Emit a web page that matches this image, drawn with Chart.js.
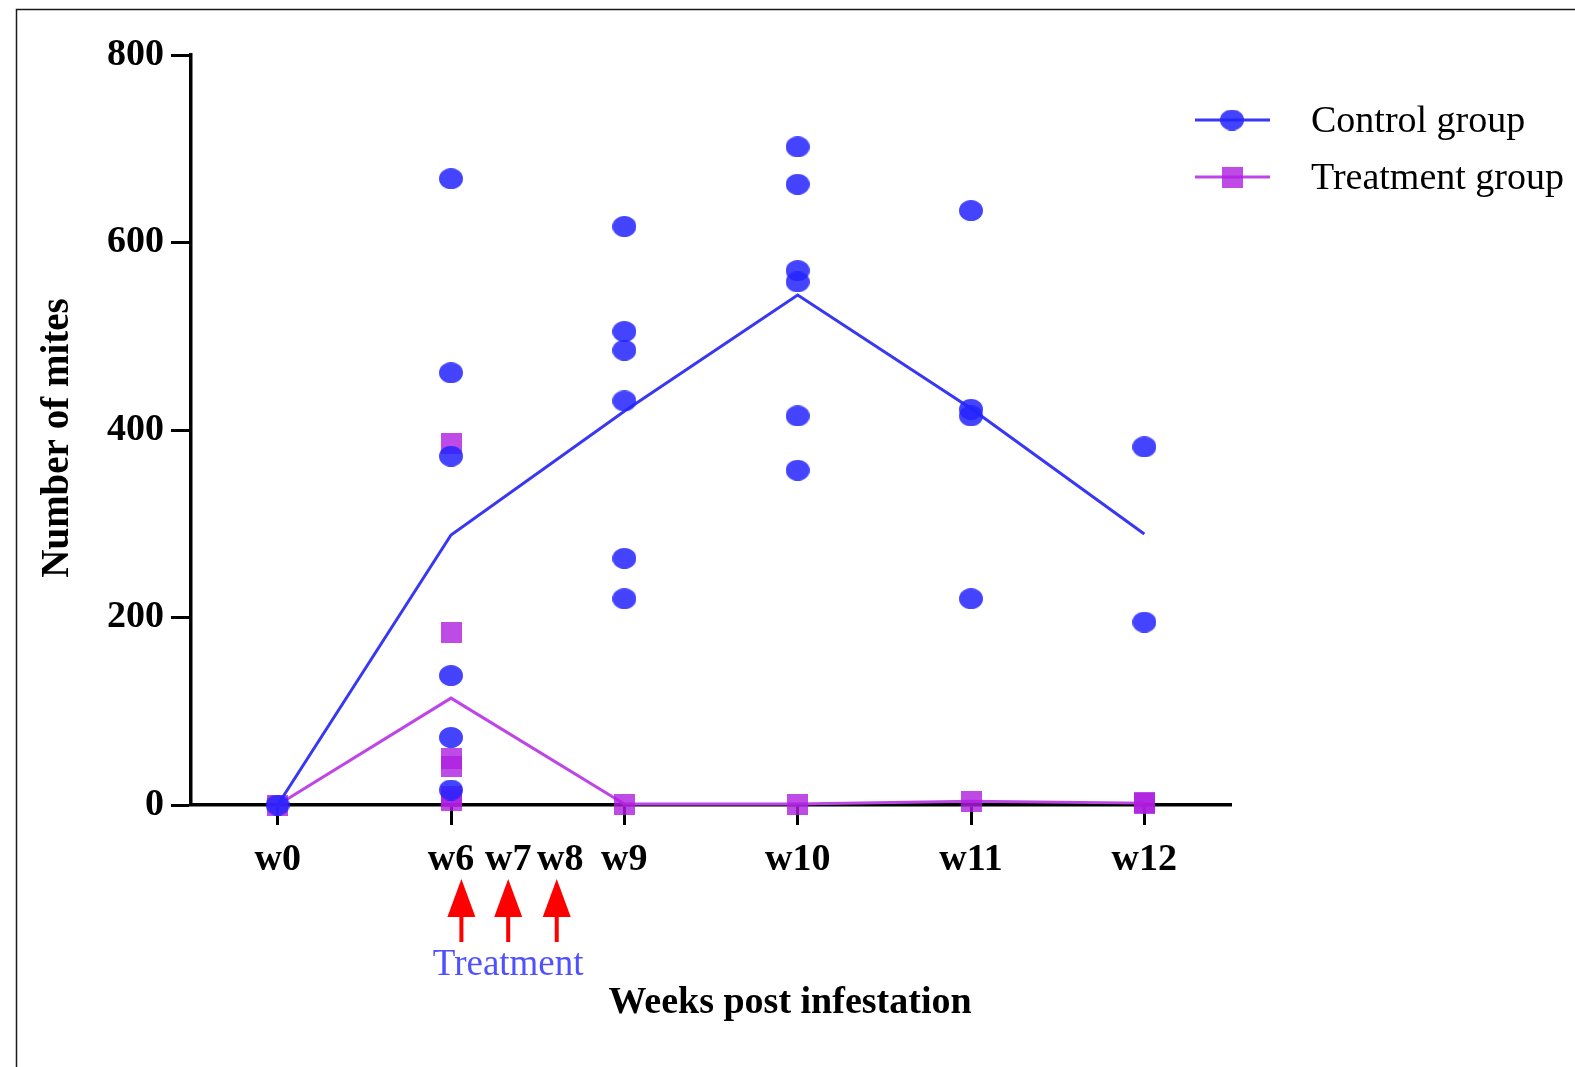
<!DOCTYPE html>
<html lang="en">

<head>
	<meta charset="UTF-8">
	<title>Number of mites</title>
	<script src="https://cdn.jsdelivr.net/npm/chart.js@4.4.1/dist/chart.umd.min.js"></script>
	<style>
		body { margin: 0; background: #fff; }
	</style>
</head>

<body>
	<canvas id="chart" width="1575" height="1067"></canvas>

	<script>
		// weeks on the x axis (position index) and their labels
		const weekX = [0, 1, 2, 3, 4, 5];
		const tickValues = [0, 1, 1.33, 1.63, 2, 3, 4, 5];
		const tickLabels = ['w0', 'w6', 'w7', 'w8', 'w9', 'w10', 'w11', 'w12'];
		const arrowWeeks = [1.06, 1.33, 1.61];

		// individual counts per week
		const controlPoints = [
			[0],
			[668, 461, 372, 138, 72, 16],
			[617, 505, 485, 431, 263, 220],
			[702, 662, 570, 558, 415, 357],
			[634, 422, 415, 220],
			[382, 195]
		];
		const treatmentPoints = [
			[0],
			[386, 184, 50, 41, 9, 5],
			[1],
			[1],
			[4],
			[2, 3]
		];

		// group means (lines)
		const controlMean = [0, 288, 420, 544, 423, 289];
		const treatmentMean = [0, 114, 1, 1, 4, 2];

		const blueDot = 'rgba(35,35,255,0.85)';
		const blueLine = 'rgb(55,55,245)';
		const purpleDot = 'rgba(175,30,225,0.8)';
		const purpleLine = 'rgb(190,70,230)';
		const serif = "'Liberation Serif', 'Times New Roman', serif";

		function ellipseImg(w, h, color) {
			const c = document.createElement('canvas');
			c.width = w; c.height = h;
			const g = c.getContext('2d');
			g.fillStyle = color;
			g.beginPath();
			g.ellipse(w / 2, h / 2, w / 2, h / 2, 0, 0, Math.PI * 2);
			g.fill();
			return c;
		}
		function squareImg(s, color) {
			const c = document.createElement('canvas');
			c.width = s; c.height = s;
			const g = c.getContext('2d');
			g.fillStyle = color;
			g.fillRect(0, 0, s, s);
			return c;
		}
		const dotImg = ellipseImg(24, 21, blueDot);
		const sqImg = squareImg(21, purpleDot);

		function points(groups) {
			const out = [];
			weekX.forEach((x, i) => groups[i].forEach(y => out.push({ x: x, y: y })));
			return out;
		}
		function meanLine(means) {
			return weekX.map((x, i) => ({ x: x, y: means[i] }));
		}

		const decor = {
			id: 'decor',
			beforeDraw(chart) {
				const c = chart.ctx;
				c.save();
				c.fillStyle = '#fff';
				c.fillRect(0, 0, chart.width, chart.height);
				c.strokeStyle = '#1a1a1a';
				c.lineWidth = 1.5;
				c.beginPath();
				c.moveTo(16.5, chart.height);
				c.lineTo(16.5, 9.5);
				c.lineTo(chart.width, 9.5);
				c.stroke();
				c.restore();
			},
			afterDraw(chart) {
				const c = chart.ctx;
				const xs = chart.scales.x;
				c.save();
				// treatment arrows
				c.fillStyle = '#ff0000';
				arrowWeeks.forEach(v => {
					const x = xs.getPixelForValue(v);
					c.beginPath();
					c.moveTo(x, 879);
					c.lineTo(x + 14, 917);
					c.lineTo(x - 14, 917);
					c.closePath();
					c.fill();
					c.fillRect(x - 2, 916, 4, 26);
				});
				c.textAlign = 'center';
				c.textBaseline = 'middle';
				c.fillStyle = 'rgb(80,80,255)';
				c.font = '37px ' + serif;
				c.fillText('Treatment', xs.getPixelForValue(1.33), 965);
				// axis titles
				c.fillStyle = '#000';
				c.font = 'bold 38px ' + serif;
				c.fillText('Weeks post infestation', 790, 1003);
				c.save();
				c.translate(58, 438);
				c.rotate(-Math.PI / 2);
				c.font = 'bold 39px ' + serif;
				c.fillText('Number of mites', 0, 0);
				c.restore();
				// legend
				const items = [
					{ label: 'Control group', color: blueLine, img: dotImg, y: 120 },
					{ label: 'Treatment group', color: purpleLine, img: sqImg, y: 177 }
				];
				c.textAlign = 'left';
				c.font = '38px ' + serif;
				items.forEach(it => {
					c.strokeStyle = it.color;
					c.lineWidth = 3;
					c.beginPath();
					c.moveTo(1195, it.y);
					c.lineTo(1270, it.y);
					c.stroke();
					c.drawImage(it.img, 1232 - it.img.width / 2, it.y - it.img.height / 2);
					c.fillStyle = '#000';
					c.fillText(it.label, 1311, it.y + 2);
				});
				c.restore();
			}
		};

		const ctx = document.getElementById('chart').getContext('2d');
		const chart = new Chart(ctx, {
			data: {
				datasets: [
					{
						type: 'scatter',
						label: 'Control group',
						data: points(controlPoints),
						pointStyle: dotImg,
						clip: false
					},
					{
						type: 'line',
						label: 'Control mean',
						data: meanLine(controlMean),
						borderColor: blueLine,
						borderWidth: 3,
						pointRadius: 0,
						clip: false
					},
					{
						type: 'scatter',
						label: 'Treatment group',
						data: points(treatmentPoints),
						pointStyle: sqImg,
						clip: false
					},
					{
						type: 'line',
						label: 'Treatment mean',
						data: meanLine(treatmentMean),
						borderColor: purpleLine,
						borderWidth: 3,
						pointRadius: 0,
						clip: false
					}
				]
			},
			options: {
				responsive: false,
				animation: false,
				devicePixelRatio: 1,
				layout: {
					padding: { left: 0, top: 55, right: 344, bottom: 0 }
				},
				plugins: {
					legend: { display: false },
					tooltip: { enabled: false }
				},
				scales: {
					x: {
						type: 'linear',
						min: -0.5,
						max: 5.5,
						afterBuildTicks: s => { s.ticks = tickValues.map(v => ({ value: v })); },
						afterFit: s => { s.height = 262; },
						grid: {
							drawOnChartArea: false,
							drawTicks: true,
							tickLength: 20,
							tickWidth: 3,
							tickColor: c => (c.tick && Number.isInteger(c.tick.value)) ? '#000' : 'rgba(0,0,0,0)'
						},
						border: { display: true, color: '#000', width: 3.5 },
						ticks: {
							autoSkip: false,
							maxRotation: 0,
							minRotation: 0,
							padding: 12,
							color: '#000',
							font: { family: serif, weight: 'bold', size: 38 }
						,
							callback: (v, i) => tickLabels[i]
						}
					},
					y: {
						min: 0,
						max: 800,
						afterFit: s => { s.width = 191; },
						grid: {
							drawOnChartArea: false,
							drawTicks: true,
							tickLength: 20,
							tickWidth: 3,
							tickColor: '#000'
						},
						border: { display: true, color: '#000', width: 3.5 },
						ticks: {
							stepSize: 200,
							padding: 7,
							color: '#000',
							font: { family: serif, weight: 'bold', size: 38 }
						}
					}
				}
			},
			plugins: [decor]
		});
	</script>

</body>

</html>
